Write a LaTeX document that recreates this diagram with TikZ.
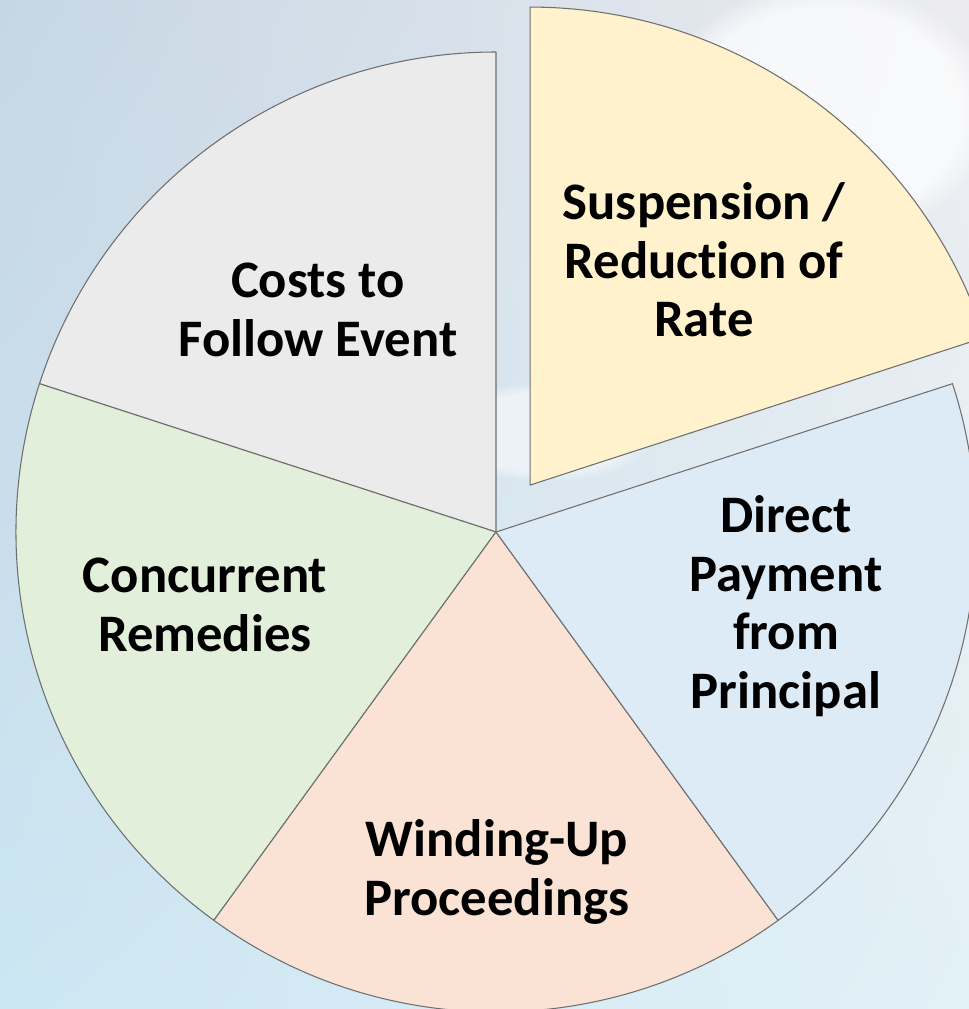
\documentclass[tikz,border=0pt]{standalone}
\usepackage{fontspec}
\setmainfont{Carlito}[Ligatures=NoCommon]
\usepackage{tikz}
\usetikzlibrary{positioning,shadings,fadings}

\definecolor{bgtl}{RGB}{198,214,228}
\definecolor{bgtr}{RGB}{236,236,240}
\definecolor{bgbl}{RGB}{204,230,243}
\definecolor{bgbr}{RGB}{226,241,246}
\definecolor{costs}{RGB}{235,235,235}
\definecolor{concur}{RGB}{226,239,218}
\definecolor{windup}{RGB}{250,227,213}
\definecolor{direct}{RGB}{221,235,247}
\definecolor{suspend}{RGB}{255,242,204}
\definecolor{edge}{RGB}{110,110,110}

\tikzset{
  slice/.style={draw=edge,line width=0.6pt,line join=round},
  pielabel/.style={align=center,font=\fontsize{30}{33.4}\selectfont\bfseries,text=black}
}

\begin{document}
\begin{tikzpicture}[line cap=round,line join=round,x=0.02cm,y=0.02cm]
      \useasboundingbox (-496,-477) rectangle (473,532);
      % background
      \shade[upper left=bgtl,upper right=bgtr,lower left=bgbl,lower right=bgbr] (-496,-477) rectangle (473,532);
      \fill[white,opacity=0.7,path fading=circle with fuzzy edge 20 percent] (330,420) ellipse (170 and 130);
      \fill[white,opacity=0.5,path fading=circle with fuzzy edge 20 percent] (50,100) ellipse (110 and 50);
      % pie
      \foreach \a/\b/\col in {90/162/costs,162/234/concur,234/306/windup,306/378/direct}
      \draw[slice,fill=\col] (0,0) -- (\a:480) arc (\a:\b:480) -- cycle;
      \draw[slice,fill=suspend,shift={(54:58)}] (0,0) -- (18:478) arc (18:90:478) -- cycle;
      % labels
      \node[pielabel] (costsLbl) at (-178,222) {Costs to\\Follow Event};
      \node[pielabel] (suspendLbl) at (208,272) {Suspension /\\Reduction of\\Rate};
      \node[pielabel] (directLbl) at (290,-74) {Direct\\Payment\\from\\Principal};
      \node[pielabel] (windupLbl) at (1,-340) {Winding-Up\\Proceedings};
      \node[pielabel] (concurLbl) at (-291,-73) {Concurrent\\Remedies};
    \end{tikzpicture}
\end{document}
